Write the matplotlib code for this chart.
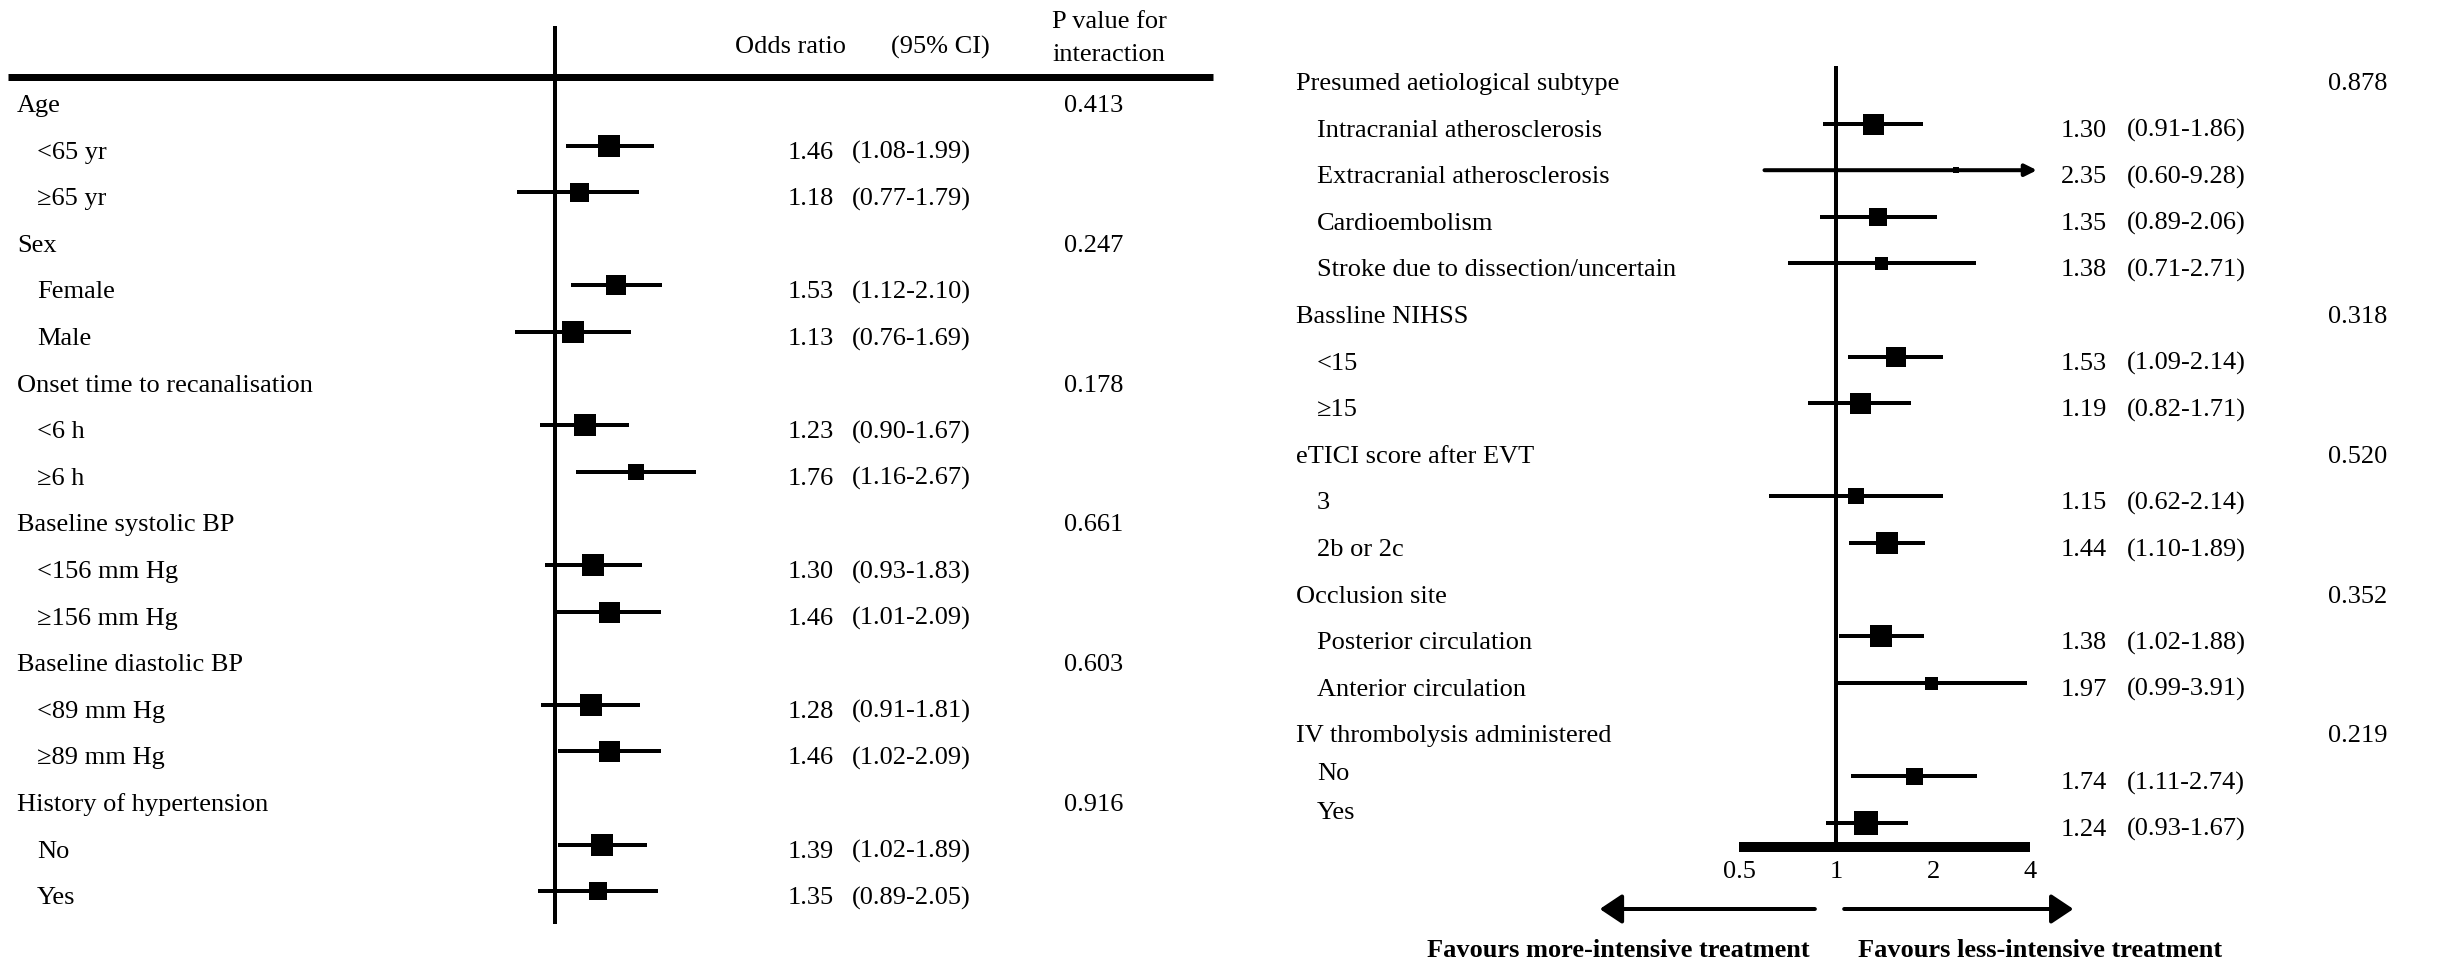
import numpy as np
import matplotlib.pyplot as plt
from matplotlib import transforms

plt.rcParams['font.family'] = ['Liberation Serif', 'DejaVu Serif']
plt.rcParams['font.size'] = 19

# ---- left panel data (group rows have nan OR and a P value) ----
left_labels = ['Age', '<65 yr', '≥65 yr',
               'Sex', 'Female', 'Male',
               'Onset time to recanalisation', '<6 h', '≥6 h',
               'Baseline systolic BP', '<156 mm Hg', '≥156 mm Hg',
               'Baseline diastolic BP', '<89 mm Hg', '≥89 mm Hg',
               'History of hypertension', 'No', 'Yes']
left_or = [np.nan, 1.46, 1.18, np.nan, 1.53, 1.13, np.nan, 1.23, 1.76,
           np.nan, 1.30, 1.46, np.nan, 1.28, 1.46, np.nan, 1.39, 1.35]
left_lo = [np.nan, 1.08, 0.77, np.nan, 1.12, 0.76, np.nan, 0.90, 1.16,
           np.nan, 0.93, 1.01, np.nan, 0.91, 1.02, np.nan, 1.02, 0.89]
left_hi = [np.nan, 1.99, 1.79, np.nan, 2.10, 1.69, np.nan, 1.67, 2.67,
           np.nan, 1.83, 2.09, np.nan, 1.81, 2.09, np.nan, 1.89, 2.05]
left_p = ['0.413', '', '', '0.247', '', '', '0.178', '', '',
          '0.661', '', '', '0.603', '', '', '0.916', '', '']
left_size = [0, 22, 19, 0, 20, 22, 0, 23, 16, 0, 22, 21, 0, 22, 21, 0, 22, 18]

# ---- right panel data ----
right_labels = ['Presumed aetiological subtype', 'Intracranial atherosclerosis',
                'Extracranial atherosclerosis', 'Cardioembolism',
                'Stroke due to dissection/uncertain',
                'Bassline NIHSS', '<15', '≥15',
                'eTICI score after EVT', '3', '2b or 2c',
                'Occlusion site', 'Posterior circulation', 'Anterior circulation',
                'IV thrombolysis administered', 'No', 'Yes']
right_or = [np.nan, 1.30, 2.35, 1.35, 1.38, np.nan, 1.53, 1.19,
            np.nan, 1.15, 1.44, np.nan, 1.38, 1.97, np.nan, 1.74, 1.24]
right_lo = [np.nan, 0.91, 0.60, 0.89, 0.71, np.nan, 1.09, 0.82,
            np.nan, 0.62, 1.10, np.nan, 1.02, 0.99, np.nan, 1.11, 0.93]
right_hi = [np.nan, 1.86, 9.28, 2.06, 2.71, np.nan, 2.14, 1.71,
            np.nan, 2.14, 1.89, np.nan, 1.88, 3.91, np.nan, 2.74, 1.67]
right_p = ['0.878', '', '', '', '', '0.318', '', '', '0.520', '', '',
           '0.352', '', '', '0.219', '', '']
right_size = [0, 21, 6, 18, 13, 0, 20, 21, 0, 16, 22, 0, 22, 13, 0, 17, 24]
axis_ticks = [0.5, 1, 2, 4]

W, H = 2438, 963
fig = plt.figure(figsize=(W / 100, H / 100), dpi=100)
PX = 72 / 100  # points per pixel
ROW = 46.6     # pixels per row


def fx(px):
    return px / W


def draw_rows(ax, trans, labels, ors, los, his, ps, sizes, cols, xmax=None, label_nudge=None):
    for i, lab in enumerate(labels):
        ty = i + 7 / ROW
        if np.isnan(ors[i]):
            ax.text(fx(cols['group']), ty, lab, transform=trans, va='center', ha='left')
            ax.text(fx(cols['p']), ty, ps[i], transform=trans, va='center', ha='left')
            continue
        ly = ty + (label_nudge.get(i, 0) if label_nudge else 0)
        ax.text(fx(cols['sub']), ly, lab, transform=trans, va='center', ha='left')
        ax.text(fx(cols['or']), ty, f'{ors[i]:.2f}', transform=trans, va='center', ha='right')
        ax.text(fx(cols['ci']), ty, f'({los[i]:.2f}-{his[i]:.2f})', transform=trans,
                va='center', ha='left')
        if xmax is not None and his[i] > xmax:
            # CI runs off the scale: draw it as an arrow
            ax.annotate('', xy=(xmax, i), xytext=(los[i], i),
                        arrowprops=dict(arrowstyle='-|>,head_length=0.5,head_width=0.25',
                                        lw=4 * PX, color='black', mutation_scale=14,
                                        shrinkA=0, shrinkB=0))
        else:
            ax.plot([los[i], his[i]], [i, i], color='black', lw=4 * PX, solid_capstyle='butt')
        ax.plot(ors[i], i, 's', color='black', ms=sizes[i] * PX, mew=0)


# ---------------- left panel ----------------
ax1 = fig.add_axes([0, 0, fx(1230), 1])
ax1.set_xscale('log')
ax1.set_xlim(np.exp(-555 / 144), np.exp((1230 - 555) / 144))
ax1.set_ylim((H - 99) / ROW, -99 / ROW)
ax1.axis('off')
t1 = transforms.blended_transform_factory(fig.transFigure, ax1.transData)

ax1.plot([1, 1], [(28 - 99) / ROW, (922 - 99) / ROW], color='black', lw=4 * PX)
ax1.plot([fx(8), fx(1213)], [(77 - 99) / ROW] * 2, transform=t1, color='black',
         lw=7 * PX, solid_capstyle='butt', clip_on=False)
ax1.text(fx(735), (47 - 99) / ROW, 'Odds ratio', transform=t1, va='center', ha='left')
ax1.text(fx(891), (47 - 99) / ROW, '(95% CI)', transform=t1, va='center', ha='left')
ax1.text(fx(1052), (22 - 99) / ROW, 'P value for', transform=t1, va='center', ha='left')
ax1.text(fx(1052), (55 - 99) / ROW, 'interaction', transform=t1, va='center', ha='left')

draw_rows(ax1, t1, left_labels, left_or, left_lo, left_hi, left_p, left_size,
          dict(group=17, sub=37, p=1064, ci=852, **{'or': 834}))

# ---------------- right panel ----------------
ax2 = fig.add_axes([fx(1280), 0, fx(1158), 1])
ax2.set_xscale('log')
ax2.set_xlim(np.exp(-556 / 140), np.exp(602 / 140))
ax2.set_ylim((H - 77) / ROW, -77 / ROW)
ax2.axis('off')
t2 = transforms.blended_transform_factory(fig.transFigure, ax2.transData)

bar_y = (847 - 77) / ROW
ax2.plot([1, 1], [(68 - 77) / ROW, bar_y], color='black', lw=4 * PX)
ax2.plot([axis_ticks[0], axis_ticks[-1]], [bar_y, bar_y], color='black', lw=10 * PX,
         solid_capstyle='butt')
for t in axis_ticks:
    ax2.text(t, (872 - 77) / ROW, f'{t:g}', ha='center', va='center')

draw_rows(ax2, t2, right_labels, right_or, right_lo, right_hi, right_p, right_size,
          dict(group=1296, sub=1317, p=2328, ci=2127, **{'or': 2107}),
          xmax=4.2, label_nudge={15: -9 / ROW, 16: -17 / ROW})

# direction arrows and captions
arr_y = (909 - 77) / ROW
head = dict(arrowstyle='-|>,head_length=0.45,head_width=0.3', lw=4 * PX,
            color='black', mutation_scale=30, shrinkA=0, shrinkB=0)
ax2.annotate('', xy=(0.185, arr_y), xytext=(0.86, arr_y), arrowprops=head)
ax2.annotate('', xy=(5.45, arr_y), xytext=(1.06, arr_y), arrowprops=head)
ax2.text(fx(1618), (950 - 77) / ROW, 'Favours more-intensive treatment', transform=t2,
         ha='center', va='center', fontweight='bold')
ax2.text(fx(2040), (950 - 77) / ROW, 'Favours less-intensive treatment', transform=t2,
         ha='center', va='center', fontweight='bold')

fig.savefig('out.png', dpi=100)
